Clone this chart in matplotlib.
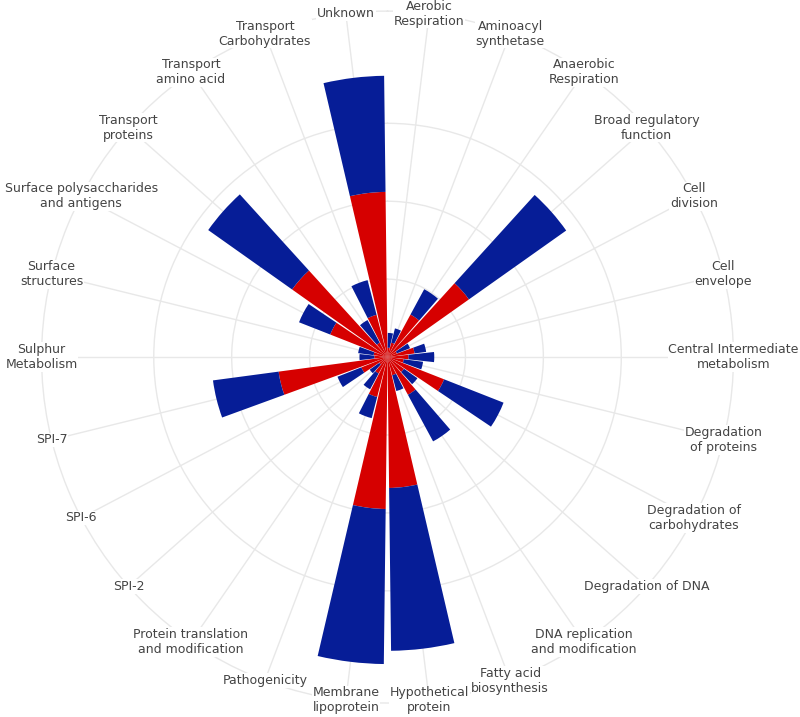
import numpy as np
import matplotlib
matplotlib.use("Agg")
import matplotlib.pyplot as plt

categories = [
    "Aerobic\nRespiration", "Aminoacyl\nsynthetase", "Anaerobic\nRespiration",
    "Broad regulatory\nfunction", "Cell\ndivision", "Cell\nenvelope",
    "Central Intermediate\nmetabolism", "Degradation\nof proteins",
    "Degradation of\ncarbohydrates", "Degradation of DNA",
    "DNA replication\nand modification", "Fatty acid\nbiosynthesis",
    "Hypothetical\nprotein", "Membrane\nlipoprotein", "Pathogenicity",
    "Protein translation\nand modification", "SPI-2", "SPI-6", "SPI-7",
    "Sulphur\nMetabolism", "Surface\nstructures",
    "Surface polysaccharides\nand antigens", "Transport\nproteins",
    "Transport\namino acid", "Transport\nCarbohydrates", "Unknown",
]
red_values = [1.2, 1.9, 6.2, 12.8, 1.3, 3.5, 2.7, 2.1, 7.8, 2.6, 5.5, 2.4, 16.8,
              19.5, 5.3, 2.4, 1.3, 3.6, 14.1, 1.7, 1.8, 7.9, 15.0, 2.1, 5.6, 21.2]
blue_values = [1.9, 1.9, 3.7, 15.3, 1.8, 1.5, 3.3, 2.5, 8.2, 2.1, 6.8, 2.1, 20.9,
               19.9, 2.8, 2.3, 1.5, 3.3, 8.5, 1.9, 2.0, 4.3, 13.2, 3.3, 4.6, 14.9]
radial_ticks = [10, 20, 30]
r_max = 44.4

n = len(categories)
step = 2 * np.pi / n
theta = (np.arange(n) + 0.5) * step

fig = plt.figure(figsize=(8, 7.17), dpi=100)
ax = fig.add_axes([0.0519, 0.0195, 0.865, 0.965], projection="polar")
ax.set_theta_zero_location("N")
ax.set_theta_direction(-1)
ax.set_axisbelow(True)

red = np.array(red_values)
blue = np.array(blue_values)
ax.bar(theta, red, width=step * 0.9, color="#d60000", linewidth=0, zorder=2)
ax.bar(theta, blue, width=step * 0.9, bottom=red, color="#061d97", linewidth=0, zorder=2)

ax.set_ylim(0, r_max)
ax.set_xticks(theta)
ax.set_xticklabels([])
ax.set_yticks(radial_ticks)
ax.set_yticklabels([])
ax.tick_params(length=0)
ax.grid(True, color="#e8e8e8", linewidth=1)
ax.spines["polar"].set_color("#e8e8e8")
ax.spines["polar"].set_linewidth(1)

for t, lab in zip(theta, categories):
    ax.text(t, r_max, lab, ha="center", va="center", fontsize=9, color="#444444",
            bbox=dict(facecolor="white", edgecolor="none", pad=0.5), zorder=5)

fig.savefig("out.png", dpi=100)
